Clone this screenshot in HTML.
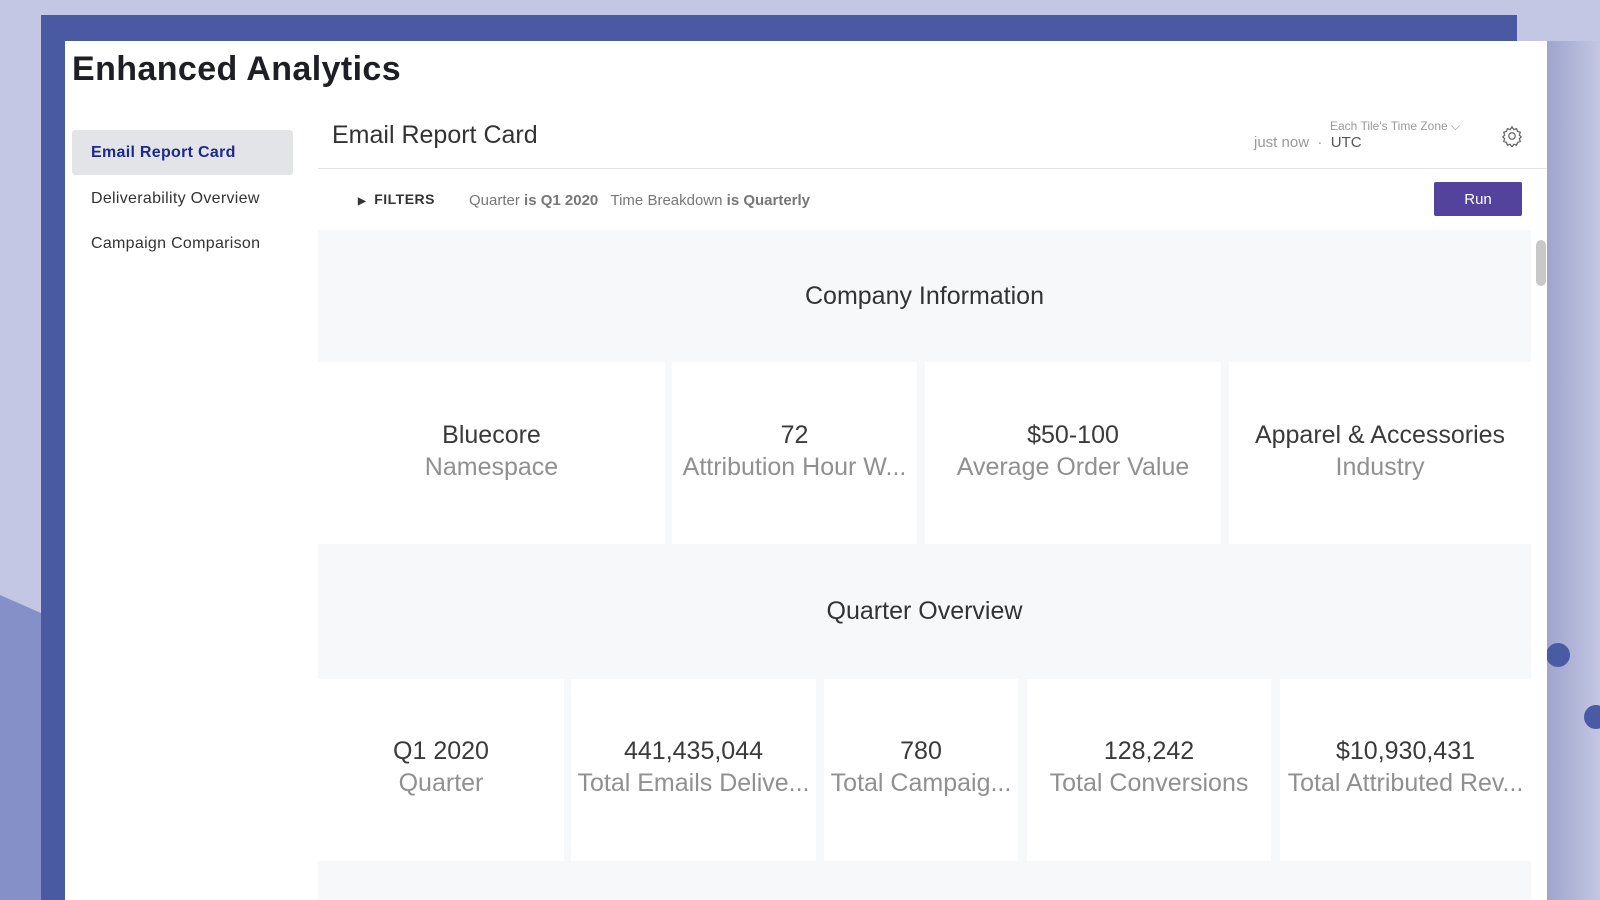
<!DOCTYPE html>
<html><head><meta charset="utf-8"><style>
*{margin:0;padding:0;box-sizing:border-box}
body{width:1600px;height:900px;overflow:hidden;position:relative;background:#c3c7e3;font-family:"Liberation Sans",sans-serif}
.abs{position:absolute}
.tile{position:absolute;background:#fff;text-align:center;font-size:25px;line-height:32px;white-space:nowrap;overflow:hidden}
.tile .v{color:#3a3a3a}
.tile .l{color:#909090}
.sec{position:absolute;left:318px;width:1213px;background:#f7f8fa;text-align:center;font-size:25px;color:#333}
.nav{position:absolute;left:91px;font-size:16px;color:#333;letter-spacing:0.3px}
</style></head><body>
<div class="abs" style="left:0;top:595px;width:41px;height:305px;background:#8590c8;clip-path:polygon(0 0,100% 18px,100% 100%,0 100%)"></div>
<div class="abs" style="left:1547px;top:41px;width:53px;height:859px;background:linear-gradient(90deg,#9ea4cc,#c3c7e3)"></div>
<div class="abs" style="left:1546px;top:643px;width:24px;height:24px;border-radius:50%;background:#4a5aa5"></div>
<div class="abs" style="left:1584px;top:705px;width:24px;height:24px;border-radius:50%;background:#4a5aa5"></div>
<div class="abs" style="left:41px;top:15px;width:1476px;height:885px;background:#4a5aa2"></div>
<div class="abs" style="left:65px;top:41px;width:1482px;height:859px;background:#fff"></div>
<div class="abs" style="left:72px;top:50px;font-size:34px;font-weight:bold;color:#1d1f24;letter-spacing:0.4px">Enhanced Analytics</div>

<div class="abs" style="left:72px;top:130px;width:221px;height:45px;background:#e3e4e7;border-radius:3px"></div>
<div class="nav" style="top:144px;font-weight:bold;color:#1c2a8a">Email Report Card</div>
<div class="nav" style="top:190px">Deliverability Overview</div>
<div class="nav" style="top:235px">Campaign Comparison</div>

<div class="abs" style="left:332px;top:121px;font-size:25px;color:#333">Email Report Card</div>
<div class="abs" style="left:1330px;top:119px;font-size:12px;color:#999">Each Tile's Time Zone ⌵</div>
<div class="abs" style="left:1254px;top:134px;font-size:15px;color:#999">just now &nbsp;·&nbsp; <span style="color:#555">UTC</span></div>
<svg class="abs" style="left:1501px;top:125px" width="22" height="22" viewBox="0 0 24 24"><path d="M12 2l2 3 3-1 1 3 3 1-1 3 2 2-2 2 1 3-3 1-1 3-3-1-2 3-2-3-3 1-1-3-3-1 1-3-2-2 2-2-1-3 3-1 1-3 3 1z" fill="none" stroke="#666" stroke-width="1.4"/><circle cx="12" cy="12" r="3.5" fill="none" stroke="#666" stroke-width="1.4"/></svg>
<div class="abs" style="left:318px;top:168px;width:1229px;height:1px;background:#e2e2e2"></div>

<div class="abs" style="left:358px;top:191px;font-size:14px;font-weight:bold;color:#333;letter-spacing:0.5px"><span style="font-size:10px;margin-right:8px">▶</span>FILTERS</div>
<div class="abs" style="left:469px;top:192px;font-size:15px;color:#777">Quarter <b>is Q1 2020</b> &nbsp; Time Breakdown <b>is Quarterly</b></div>
<div class="abs" style="left:1434px;top:182px;width:88px;height:34px;background:#54439c;border-radius:2px;color:#fff;font-size:15px;text-align:center;line-height:36px">Run</div>

<div class="sec" style="top:230px;height:132px;line-height:132px">Company Information</div>
<div class="abs" style="left:318px;top:362px;width:1213px;height:182px;background:#f7f8fa"></div>
<div class="tile" style="left:318px;top:362px;width:347px;height:182px;padding-top:57px"><div class="v">Bluecore</div><div class="l">Namespace</div></div>
<div class="tile" style="left:672px;top:362px;width:245px;height:182px;padding-top:57px"><div class="v">72</div><div class="l">Attribution Hour W...</div></div>
<div class="tile" style="left:925px;top:362px;width:296px;height:182px;padding-top:57px"><div class="v">$50-100</div><div class="l">Average Order Value</div></div>
<div class="tile" style="left:1229px;top:362px;width:302px;height:182px;padding-top:57px"><div class="v">Apparel &amp; Accessories</div><div class="l">Industry</div></div>

<div class="sec" style="top:544px;height:135px;line-height:135px">Quarter Overview</div>
<div class="abs" style="left:318px;top:679px;width:1213px;height:221px;background:#f7f8fa"></div>
<div class="tile" style="left:318px;top:679px;width:246px;height:182px;padding-top:56px"><div class="v">Q1 2020</div><div class="l">Quarter</div></div>
<div class="tile" style="left:571px;top:679px;width:245px;height:182px;padding-top:56px"><div class="v">441,435,044</div><div class="l">Total Emails Delive...</div></div>
<div class="tile" style="left:824px;top:679px;width:194px;height:182px;padding-top:56px"><div class="v">780</div><div class="l">Total Campaig...</div></div>
<div class="tile" style="left:1027px;top:679px;width:244px;height:182px;padding-top:56px"><div class="v">128,242</div><div class="l">Total Conversions</div></div>
<div class="tile" style="left:1280px;top:679px;width:251px;height:182px;padding-top:56px"><div class="v">$10,930,431</div><div class="l">Total Attributed Rev...</div></div>

<div class="abs" style="left:1533px;top:236px;width:14px;height:664px;background:#fff"></div>
<div class="abs" style="left:1536px;top:240px;width:10px;height:46px;background:#c8c8c8;border-radius:5px"></div>
</body></html>
